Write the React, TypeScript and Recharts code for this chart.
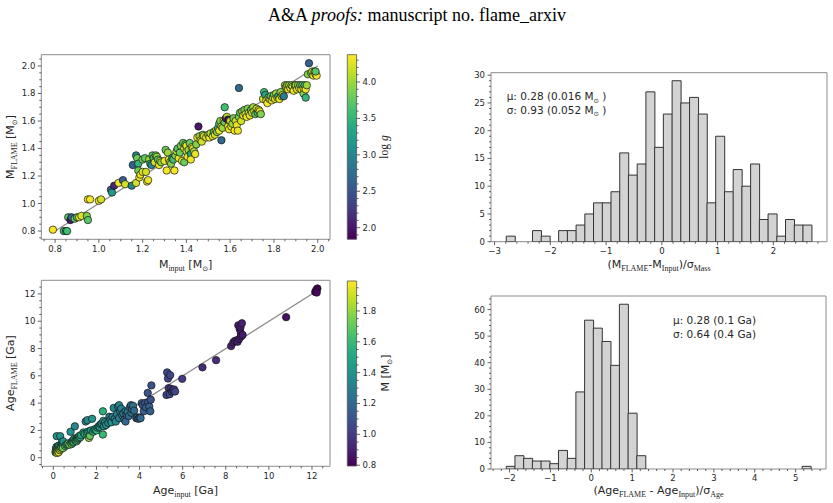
import React from 'react';
import { ScatterChart, Scatter, XAxis, YAxis, ReferenceArea, BarChart, Bar, ComposedChart } from 'recharts';

// ---------------- DATA ----------------
// [M_input, M_FLAME, log g]
const massPoints: [number, number, number][] = [
  [0.79,0.81,4.35],[0.84,0.80,3.55],[0.85,0.80,3.5],[0.855,0.80,3.6],
  [0.86,0.90,3.7],[0.87,0.88,2.0],[0.875,0.90,2.6],[0.89,0.89,3.8],[0.90,0.90,3.6],[0.91,0.90,4.3],[0.92,0.91,4.25],[0.945,0.91,3.9],[0.95,0.88,3.7],
  [0.95,1.03,4.3],[0.96,1.03,4.35],[1.0,1.02,4.3],[1.01,1.03,4.2],
  [1.055,1.10,2.6],[1.06,1.08,3.2],[1.07,1.13,2.1],[1.09,1.15,4.3],[1.11,1.17,2.6],[1.12,1.14,4.2],[1.15,1.13,3.0],[1.155,1.28,2.6],[1.17,1.15,4.2],
  [1.17,1.35,3.0],[1.175,1.33,3.8],[1.18,1.29,3.5],[1.18,1.24,3.8],[1.185,1.19,4.3],[1.19,1.21,4.3],[1.2,1.32,3.9],[1.2,1.23,4.25],[1.21,1.33,3.7],[1.215,1.23,4.2],[1.22,1.16,4.35],[1.225,1.17,4.3],[1.23,1.32,4.0],[1.235,1.29,3.5],[1.24,1.28,3.0],[1.245,1.35,3.7],[1.25,1.33,3.6],[1.255,1.30,4.2],[1.26,1.35,3.8],[1.265,1.34,4.0],[1.27,1.32,3.7],[1.275,1.28,4.3],[1.28,1.31,4.25],[1.285,1.30,3.9],
  [1.30,1.31,4.3],[1.305,1.39,3.8],[1.31,1.24,4.35],[1.315,1.37,4.0],[1.32,1.32,4.3],[1.325,1.30,4.2],[1.33,1.29,3.9],[1.335,1.33,3.3],[1.34,1.32,3.6],[1.345,1.24,4.35],[1.35,1.35,3.9],[1.355,1.38,4.1],[1.36,1.40,3.7],[1.365,1.33,4.3],[1.37,1.37,3.8],[1.375,1.42,3.9],[1.38,1.31,4.3],[1.385,1.44,3.8],[1.39,1.40,4.2],[1.39,1.30,3.8],[1.395,1.43,3.7],[1.40,1.38,4.1],[1.40,1.42,4.3],[1.405,1.34,4.25],[1.41,1.39,4.0],[1.415,1.44,3.8],[1.42,1.36,3.3],[1.42,1.32,4.3],[1.425,1.41,4.2],[1.43,1.40,4.3],[1.435,1.38,4.0],[1.44,1.36,4.3],[1.445,1.43,3.9],
  [1.45,1.48,4.3],[1.455,1.56,2.0],[1.46,1.49,4.0],[1.465,1.46,4.35],[1.47,1.45,4.2],[1.475,1.50,3.8],[1.48,1.49,4.3],[1.49,1.48,4.2],[1.50,1.50,3.9],[1.505,1.48,4.3],[1.51,1.51,4.1],[1.52,1.49,4.3],[1.525,1.52,3.7],[1.53,1.50,4.2],[1.535,1.53,4.3],[1.54,1.52,3.9],[1.545,1.55,3.6],[1.55,1.58,3.7],[1.55,1.53,4.3],[1.555,1.60,3.9],[1.56,1.46,2.7],[1.56,1.56,4.2],[1.565,1.55,4.0],[1.57,1.60,4.3],[1.575,1.59,3.8],[1.575,1.70,3.6],[1.58,1.62,2.0],[1.585,1.63,4.1],[1.59,1.61,1.9],[1.59,1.56,4.3],[1.595,1.54,4.35],[1.60,1.60,4.2],
  [1.605,1.56,4.3],[1.61,1.58,4.0],[1.615,1.62,3.8],[1.62,1.53,4.35],[1.625,1.60,4.2],[1.63,1.57,4.3],[1.635,1.53,4.3],[1.64,1.84,2.7],[1.64,1.63,3.9],[1.645,1.66,3.7],[1.65,1.60,4.2],[1.655,1.67,4.0],[1.66,1.64,4.3],[1.665,1.68,3.8],[1.67,1.65,4.2],[1.675,1.63,4.3],[1.68,1.69,3.9],[1.685,1.66,4.1],[1.69,1.64,4.3],[1.695,1.68,3.7],[1.70,1.66,4.2],[1.705,1.70,4.0],[1.71,1.67,4.3],[1.715,1.65,3.8],[1.72,1.69,4.1],[1.725,1.66,3.6],[1.73,1.68,4.25],[1.735,1.67,4.3],[1.74,1.65,3.9],
  [1.75,1.76,4.2],[1.755,1.81,3.6],[1.76,1.79,3.3],[1.765,1.75,4.3],[1.77,1.73,4.35],[1.775,1.77,4.0],[1.78,1.76,4.2],[1.785,1.78,3.7],[1.79,1.75,4.3],[1.795,1.77,4.1],[1.80,1.79,3.8],[1.805,1.76,4.3],[1.81,1.80,4.0],[1.815,1.77,4.2],[1.82,1.78,3.4],[1.825,1.76,4.3],[1.83,1.81,3.9],[1.835,1.78,4.2],[1.84,1.79,4.3],[1.845,1.78,2.9],
  [1.85,1.86,4.2],[1.855,1.85,4.0],[1.86,1.86,3.8],[1.865,1.83,4.3],[1.87,1.86,4.1],[1.875,1.84,4.35],[1.88,1.86,3.9],[1.885,1.85,4.2],[1.89,1.82,4.3],[1.895,1.86,3.8],[1.90,1.86,4.1],[1.905,1.83,4.3],[1.91,1.86,4.0],[1.915,1.84,4.2],[1.92,1.86,3.7],[1.925,1.83,4.3],[1.93,1.86,3.8],[1.935,1.80,3.9],[1.935,1.84,4.2],[1.94,1.86,3.6],[1.945,1.77,3.5],[1.945,1.83,4.3],[1.95,1.86,4.0],[1.955,1.94,3.9],[1.96,2.02,2.6],[1.97,1.95,3.8],[1.975,1.96,4.2],[1.98,1.93,4.3],[1.985,1.96,3.9],[1.99,1.94,4.3],[1.995,1.93,4.35],[1.99,1.96,3.7],
];

// [Age_input, Age_FLAME, M]
const agePoints: [number, number, number][] = [
  [0.10,0.40,1.5],[0.12,0.55,1.6],[0.13,0.70,1.45],[0.14,0.45,1.7],[0.15,0.80,1.55],[0.16,1.58,1.4],[0.17,0.60,1.65],[0.18,0.35,1.9],[0.19,0.75,1.5],[0.20,0.50,1.75],[0.22,0.85,1.45],[0.24,0.60,1.8],[0.25,0.40,1.95],[0.27,0.70,1.6],[0.28,0.90,1.5],[0.30,0.55,1.85],[0.32,1.58,1.4],[0.33,0.80,1.55],[0.35,0.65,1.9],[0.37,0.95,1.5],[0.38,0.75,1.7],[0.40,1.15,1.45],[0.42,0.90,1.6],[0.44,1.00,1.5],[0.45,0.70,1.75],[0.46,1.20,1.4],
  [0.55,0.85,1.65],[0.60,0.95,1.6],[0.65,1.00,1.55],[0.70,1.05,1.7],[0.75,0.95,1.75],[0.80,1.90,1.4],[0.82,1.10,1.6],[0.85,1.00,1.7],[0.88,1.20,1.55],[0.90,1.10,1.65],[0.93,1.30,1.5],[0.95,1.15,1.6],[0.98,1.40,1.5],[1.00,2.30,1.35],[1.02,1.25,1.6],[1.05,1.35,1.55],[1.08,1.20,1.65],[1.10,1.45,1.5],[1.12,1.30,1.6],[1.15,1.40,1.55],[1.18,1.55,1.45],[1.20,1.45,1.6],[1.22,1.60,1.9],[1.25,1.50,1.55],[1.28,1.65,1.5],
  [1.40,1.85,1.5],[1.45,1.75,1.55],[1.50,2.65,1.35],[1.55,1.80,1.6],[1.58,2.75,1.35],[1.60,1.90,1.5],[1.65,1.45,1.8],[1.68,1.95,1.5],[1.70,1.60,1.7],[1.75,2.00,1.45],[1.80,2.85,1.4],[1.85,1.90,1.55],[1.90,2.05,1.5],[1.95,2.10,1.45],[2.00,2.00,1.6],[2.05,2.20,1.45],[2.10,2.30,1.4],[2.15,2.25,1.45],[2.20,2.45,1.4],[2.25,2.50,1.35],[2.30,3.40,1.55],[2.30,1.70,1.6],[2.32,2.70,1.45],[2.35,2.30,1.4],[2.40,2.60,1.35],[2.45,2.40,1.4],
  [2.55,2.55,1.35],[2.60,3.00,1.3],[2.65,2.75,1.35],[2.70,2.60,1.4],[2.75,3.00,1.3],[2.80,3.65,1.35],[2.85,2.85,1.3],[2.90,2.65,1.35],[2.95,3.20,1.3],[3.00,3.75,1.3],[3.05,3.85,1.35],[3.05,2.90,1.3],[3.10,3.40,1.25],[3.15,3.60,1.3],[3.20,3.10,1.25],[3.25,3.25,1.3],[3.30,2.80,1.2],[3.35,2.65,1.2],[3.35,3.40,1.25],[3.40,3.15,1.2],[3.45,3.35,1.3],[3.50,3.05,1.2],[3.55,3.70,1.25],[3.60,3.85,1.2],[3.62,3.30,1.25],[3.65,3.55,1.2],[3.70,3.80,1.25],[3.75,3.45,1.2],
  [3.85,2.90,1.15],[3.90,2.95,1.2],[3.95,2.85,1.15],[4.00,2.95,1.15],[4.05,2.90,1.2],[4.10,4.00,1.15],[4.15,3.85,1.15],[4.20,3.40,1.15],[4.25,4.00,1.1],[4.30,3.70,1.15],[4.38,4.75,1.1],[4.40,4.05,1.1],[4.45,3.75,1.15],[4.50,3.40,1.15],[4.52,4.25,1.1],[4.55,5.30,1.1],
  [5.25,4.60,1.05],[5.28,6.25,1.05],[5.32,5.80,1.05],[5.35,5.10,1.0],[5.40,4.65,1.05],[5.42,6.05,1.05],[5.45,5.05,1.0],[5.50,4.85,1.05],[5.55,4.95,1.0],[5.60,5.00,1.0],[5.65,4.85,1.05],
  [5.98,5.78,1.0],[6.92,6.62,0.95],[7.55,7.15,0.95],[8.25,8.18,0.9],[8.35,8.45,0.92],[8.42,8.55,0.9],[8.50,8.60,0.9],[8.55,8.50,0.9],[8.58,9.70,0.9],[8.62,8.70,0.88],[8.65,9.40,0.9],[8.68,9.55,0.88],[8.70,9.10,0.9],[8.72,8.90,0.88],[8.75,9.85,0.9],[8.78,9.00,0.88],[10.80,10.30,0.85],[12.15,12.15,0.8],[12.20,12.30,0.8],[12.25,12.40,0.8],[12.22,12.10,0.82],
];

const massLine = [{ x: 0.8, y: 0.8 }, { x: 2.0, y: 2.0 }];
const ageLine = [{ x: 0.05, y: 0.05 }, { x: 12.2, y: 12.2 }];

const massHistCenters = [-2.712,-2.555,-2.399,-2.242,-2.086,-1.929,-1.773,-1.616,-1.460,-1.303,-1.147,-0.990,-0.834,-0.677,-0.521,-0.364,-0.208,-0.051,0.105,0.262,0.418,0.575,0.731,0.888,1.044,1.201,1.357,1.514,1.670,1.827,1.983,2.140,2.296,2.453,2.609];
const massHistCounts = [1,0,0,2,1,0,2,2,3,5,7,7,9,16,12,14,27,17,23,29,25,26,23,7,19,9,13,10,14,4,5,1,4,3,3];

const ageHistCenters = [-1.974,-1.761,-1.548,-1.335,-1.122,-0.909,-0.696,-0.483,-0.270,-0.057,0.156,0.368,0.581,0.794,1.007,1.220,1.433,1.646,1.859,2.072,2.284,2.497,2.710,2.923,3.136,3.349,3.562,3.775,3.988,4.201,4.413,4.626,4.839,5.052,5.265];
const ageHistCounts = [1,5,4,3,3,2,7,4,29,56,53,48,39,62,21,5,0,0,0,0,0,0,0,0,0,0,0,0,0,0,0,0,0,0,1];

const massMajor = [0.8, 1.0, 1.2, 1.4, 1.6, 1.8, 2.0];
const ageMajor = [0, 2, 4, 6, 8, 10, 12];
const loggMajor = [2.0, 2.5, 3.0, 3.5, 4.0];
const mcbMajor = [0.8, 1.0, 1.2, 1.4, 1.6, 1.8];
const h1XMajor = [-3, -2, -1, 0, 1, 2];
const h1YMajor = [0, 5, 10, 15, 20, 25, 30];
const h2XMajor = [-2, -1, 0, 1, 2, 3, 4, 5];
const h2YMajor = [0, 10, 20, 30, 40, 50, 60];

// ---------------- HELPERS ----------------
function seq(a: number, b: number, step: number) {
  const out: number[] = [];
  const n = Math.round((b - a) / step);
  for (let i = 0; i <= n; i++) out.push(+(a + i * step).toFixed(4));
  return out;
}
const VIR = ['#440154','#482475','#414487','#355f8d','#2a788e','#21918c','#22a884','#44bf70','#7ad151','#bddf26','#fde725'];
function hx(h: string) { return [parseInt(h.slice(1,3),16), parseInt(h.slice(3,5),16), parseInt(h.slice(5,7),16)]; }
function viridis(t: number) {
  const tt = Math.max(0, Math.min(1, t));
  const s = tt * 10;
  const i = Math.min(9, Math.floor(s));
  const f = s - i;
  const a = hx(VIR[i]), b = hx(VIR[i + 1]);
  return `rgb(${Math.round(a[0] + (b[0]-a[0])*f)},${Math.round(a[1] + (b[1]-a[1])*f)},${Math.round(a[2] + (b[2]-a[2])*f)})`;
}

const SANS = 'DejaVu Sans';
const SERIF = 'Liberation Serif';
const TICKC = '#3a3a3a';
const TXT = '#262626';
const FRAME = '#8c8c8c';
const TFS = 8.5;
const near = (arr: number[], v: number) => arr.some(m => Math.abs(m - v) < 1e-6);
const minus = (s: string) => s.replace('-', '\u2212');

function bottomTick(p: any, majors: number[], fmt: (v: number) => string) {
  const { x, y, payload } = p;
  const v = payload.value;
  const major = near(majors, v);
  const len = major ? 3.5 : 2;
  return (
    <g>
      <line x1={x} x2={x} y1={y} y2={y + len} stroke={TICKC} strokeWidth={0.8} />
      {major && <text x={x} y={y + len + 2.5} dy="0.75em" textAnchor="middle" fontSize={TFS} fontFamily={SANS} fill={TXT}>{minus(fmt(v))}</text>}
    </g>
  );
}
function leftTick(p: any, majors: number[], fmt: (v: number) => string) {
  const { x, y, payload } = p;
  const v = payload.value;
  const major = near(majors, v);
  const len = major ? 3.5 : 2;
  return (
    <g>
      <line x1={x - len} x2={x} y1={y} y2={y} stroke={TICKC} strokeWidth={0.8} />
      {major && <text x={x - len - 2.5} y={y} dy="0.35em" textAnchor="end" fontSize={TFS} fontFamily={SANS} fill={TXT}>{minus(fmt(v))}</text>}
    </g>
  );
}
function rightTick(p: any, majors: number[], fmt: (v: number) => string) {
  const { x, y, payload } = p;
  const v = payload.value;
  const major = near(majors, v);
  const len = major ? 3.5 : 2;
  return (
    <g>
      <line x1={x} x2={x + len} y1={y} y2={y} stroke={TICKC} strokeWidth={0.8} />
      {major && <text x={x + len + 2.5} y={y} dy="0.35em" textAnchor="start" fontSize={TFS} fontFamily={SANS} fill={TXT}>{fmt(v)}</text>}
    </g>
  );
}
const f1 = (v: number) => v.toFixed(1);
const f0 = (v: number) => String(Math.round(v));

function dot(p: any, lo: number, hi: number) {
  if (p.cx == null || p.cy == null) return <g />;
  return <circle cx={p.cx} cy={p.cy} r={3.7} fill={viridis((p.payload.c - lo) / (hi - lo))} stroke="#141414" strokeWidth={0.7} />;
}

const LOGG = [1.84, 4.375];
const MCB = [0.795, 1.994];

function ScatterPanel(props: {
  pts: { x: number; y: number; c: number }[]; line: { x: number; y: number }[];
  xd: number[]; yd: number[]; xt: number[]; yt: number[]; xm: number[]; ym: number[];
  fmt: (v: number) => string; cr: number[]; top: number; height: number; mt: number; mb: number;
}) {
  const { pts, line, xd, yd, xt, yt, xm, ym, fmt, cr, top, height, mt, mb } = props;
  return (
    <div style={{ position: 'absolute', left: 0, top }}>
      <ScatterChart width={345} height={height} margin={{ top: mt, right: 15, bottom: mb, left: 0 }}>
        <XAxis type="number" dataKey="x" domain={xd} allowDataOverflow ticks={xt} interval={0}
          tickSize={0} tickMargin={0} axisLine={false} tickLine={false} height={20}
          tick={(p: any) => bottomTick(p, xm, fmt)} />
        <YAxis type="number" dataKey="y" domain={yd} allowDataOverflow ticks={yt} interval={0}
          tickSize={0} tickMargin={0} axisLine={false} tickLine={false} width={41.3}
          tick={(p: any) => leftTick(p, ym, fmt)} />
        <Scatter data={line} line={{ stroke: '#8a8a8a', strokeWidth: 1.3 }} shape={() => <g />} isAnimationActive={false} />
        <Scatter data={pts} shape={(p: any) => dot(p, cr[0], cr[1])} isAnimationActive={false} />
        <ReferenceArea x1={xd[0]} x2={xd[1]} y1={yd[0]} y2={yd[1]} fill="none" fillOpacity={0} stroke={FRAME} strokeWidth={1} ifOverflow="visible" />
      </ScatterChart>
    </div>
  );
}

function Colorbar(props: { id: string; top: number; height: number; mt: number; mb: number; dom: number[]; ticks: number[]; majors: number[]; fmt: (v: number) => string }) {
  const { id, top, height, mt, mb, dom, ticks, majors, fmt } = props;
  return (
    <div style={{ position: 'absolute', left: 340, top }}>
      <ComposedChart width={60} height={height} data={[{ x: 0 }, { x: 1 }]} margin={{ top: mt, right: 0, bottom: mb, left: 7.3 }}>
        <defs>
          <linearGradient id={id} x1="0" y1="1" x2="0" y2="0">
            {VIR.map((c, i) => <stop key={i} offset={`${i * 10}%`} stopColor={c} />)}
          </linearGradient>
        </defs>
        <XAxis type="number" dataKey="x" domain={[0, 1]} hide />
        <YAxis type="number" orientation="right" domain={dom} allowDataOverflow ticks={ticks} interval={0}
          tickSize={0} tickMargin={0} axisLine={false} tickLine={false} width={43.4}
          tick={(p: any) => rightTick(p, majors, fmt)} />
        <ReferenceArea x1={0} x2={1} y1={dom[0]} y2={dom[1]} fill={`url(#${id})`} fillOpacity={1} stroke="#555" strokeWidth={0.8} ifOverflow="visible" />
      </ComposedChart>
    </div>
  );
}

function HistPanel(props: { data: { c: number; n: number }[]; top: number; height: number; mt: number; mb: number; mr: number;
  xd: number[]; yd: number[]; xt: number[]; yt: number[]; xm: number[]; ym: number[] }) {
  const { data, top, height, mt, mb, mr, xd, yd, xt, yt, xm, ym } = props;
  return (
    <div style={{ position: 'absolute', left: 440, top }}>
      <BarChart width={393} height={height} data={data} margin={{ top: mt, right: mr, bottom: mb, left: 0 }} barCategoryGap={0} barGap={0}>
        <XAxis type="number" dataKey="c" domain={xd} allowDataOverflow ticks={xt} interval={0}
          tickSize={0} tickMargin={0} axisLine={false} tickLine={false} height={20}
          tick={(p: any) => bottomTick(p, xm, f0)} />
        <YAxis type="number" domain={yd} allowDataOverflow ticks={yt} interval={0}
          tickSize={0} tickMargin={0} axisLine={false} tickLine={false} width={51}
          tick={(p: any) => leftTick(p, ym, f0)} />
        <Bar dataKey="n" fill="#d3d3d3" stroke="#333333" strokeWidth={1} isAnimationActive={false} />
        <ReferenceArea x1={xd[0]} x2={xd[1]} y1={yd[0]} y2={yd[1]} fill="none" fillOpacity={0} stroke={FRAME} strokeWidth={1} ifOverflow="visible" />
      </BarChart>
    </div>
  );
}

export default function App() {
  const mPts = massPoints.map(([x, y, c]) => ({ x, y, c }));
  const aPts = agePoints.map(([x, y, c]) => ({ x, y, c }));
  const h1 = massHistCenters.map((c, i) => ({ c, n: massHistCounts[i] }));
  const h2 = ageHistCenters.map((c, i) => ({ c, n: ageHistCounts[i] }));
  const sub = (t: string, size = 8) => <tspan fontFamily={SERIF} fontSize={size} dy={2.5}>{t}</tspan>;
  const odot = <tspan fontSize={7} dy={2.5}>⊙</tspan>;
  return (
    <div style={{ position: 'absolute', left: 0, top: 0, width: 833, height: 503, background: '#fff', overflow: 'hidden' }}>
      <ScatterPanel pts={mPts} line={massLine} xd={[0.737, 2.056]} yd={[0.74, 2.082]}
        xt={seq(0.75, 2.05, 0.05)} yt={seq(0.75, 2.05, 0.05)} xm={massMajor} ym={massMajor} fmt={f1}
        cr={LOGG} top={0} height={280} mt={54.7} mb={20.7} />
      <Colorbar id="virA" top={0} height={280} mt={54.7} mb={40.7} dom={LOGG} ticks={seq(1.9, 4.3, 0.1)} majors={loggMajor} fmt={f1} />
      <HistPanel data={h1} top={0} height={280} mt={72.7} mb={18.3} mr={6} xd={[-3.064, 2.962]} yd={[0, 30.45]}
        xt={seq(-3.0, 2.8, 0.2)} yt={seq(0, 30, 1)} xm={h1XMajor} ym={h1YMajor} />

      <ScatterPanel pts={aPts} line={ageLine} xd={[-0.557, 12.835]} yd={[-0.63, 13.0]}
        xt={seq(-0.5, 12.5, 0.5)} yt={seq(-0.5, 12.5, 0.5)} xm={ageMajor} ym={ageMajor} fmt={f0}
        cr={MCB} top={260} height={243} mt={20.3} mb={16.7} />
      <Colorbar id="virB" top={260} height={243} mt={21} mb={37} dom={MCB} ticks={seq(0.8, 1.95, 0.05)} majors={mcbMajor} fmt={f1} />
      <HistPanel data={h2} top={260} height={243} mt={36} mb={14} mr={7} xd={[-2.453, 5.743]} yd={[0, 65.1]}
        xt={seq(-2.4, 5.6, 0.2)} yt={seq(0, 64, 2)} xm={h2XMajor} ym={h2YMajor} />

      <svg width={833} height={503} style={{ position: 'absolute', left: 0, top: 0, pointerEvents: 'none' }}>
        <text x={417} y={21} textAnchor="middle" fontFamily={SERIF} fontSize={18} fill="#000">
          A&amp;A <tspan fontStyle="italic">proofs:</tspan> manuscript no. flame_arxiv
        </text>

        <g fontFamily={SANS} fontSize={11} fill={TXT}>
          <text x={185.6} y={268} textAnchor="middle">M{sub('input')}<tspan dy={-2.5}> [M</tspan>{odot}<tspan dy={-2.5}>]</tspan></text>
          <text x={14} y={147} textAnchor="middle" transform="rotate(-90 14 147)">M{sub('FLAME')}<tspan dy={-2.5}> [M</tspan>{odot}<tspan dy={-2.5}>]</tspan></text>
          <text x={388} y={147} textAnchor="middle" transform="rotate(-90 388 147)" fontFamily={SERIF} fontSize={11.5}>log <tspan fontStyle="italic">g</tspan></text>

          <text x={185.6} y={494} textAnchor="middle">Age{sub('input')}<tspan dy={-2.5}> [Ga]</tspan></text>
          <text x={14} y={373} textAnchor="middle" transform="rotate(-90 14 373)">Age{sub('FLAME')}<tspan dy={-2.5}> [Ga]</tspan></text>
          <text x={389} y={373} textAnchor="middle" transform="rotate(-90 389 373)">M [M{odot}<tspan dy={-2.5}>]</tspan></text>

          <text x={659} y={268} textAnchor="middle">(M{sub('FLAME')}<tspan dy={-2.5}>-M</tspan>{sub('Input')}<tspan dy={-2.5}>)/σ</tspan>{sub('Mass')}</text>
          <text x={658.5} y={494} textAnchor="middle">(Age{sub('FLAME')}<tspan dy={-2.5}> - Age</tspan>{sub('Input')}<tspan dy={-2.5}>)/σ</tspan>{sub('Age')}</text>
        </g>
        <g fontFamily={SANS} fontSize={10.5} fill={TXT}>
          <text x={506.7} y={100}>μ: 0.28 (0.016 M<tspan fontSize={6.5} dy={2.5}>⊙</tspan><tspan dy={-2.5}> )</tspan></text>
          <text x={506.7} y={113.5}>σ: 0.93 (0.052 M<tspan fontSize={6.5} dy={2.5}>⊙</tspan><tspan dy={-2.5}> )</tspan></text>
          <text x={673} y={324}>μ: 0.28 (0.1 Ga)</text>
          <text x={673} y={337.5}>σ: 0.64 (0.4 Ga)</text>
        </g>
      </svg>
    </div>
  );
}
